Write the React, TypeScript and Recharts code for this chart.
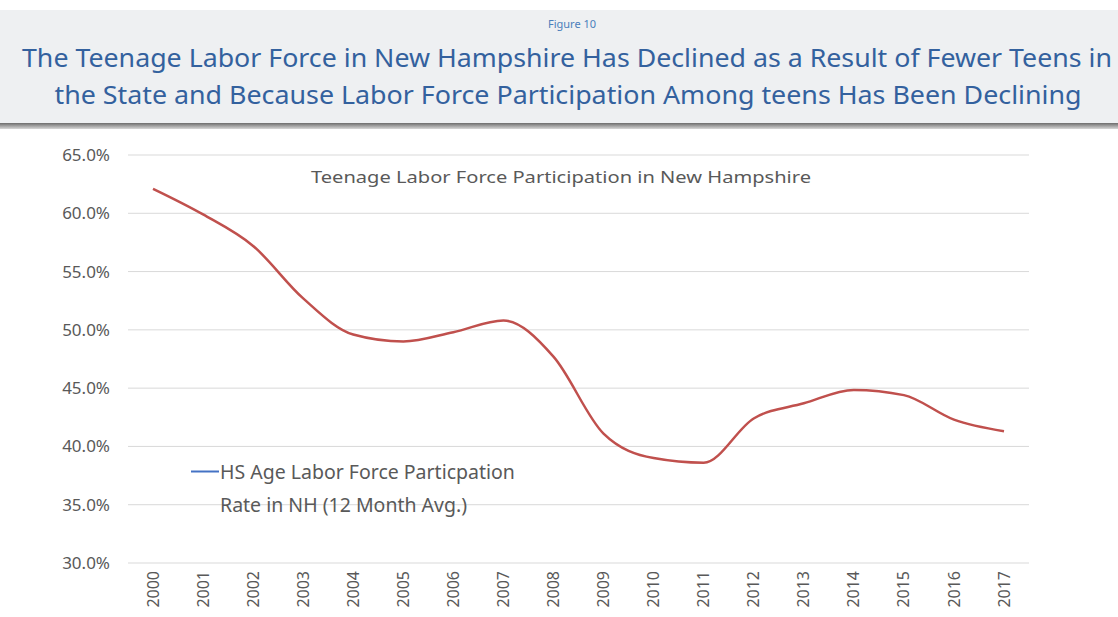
import { LineChart, Line, XAxis, YAxis, CartesianGrid, Legend } from 'recharts';

const YEARS = ['2000', '2001', '2002', '2003', '2004', '2005', '2006', '2007', '2008', '2009', '2010', '2011', '2012', '2013', '2014', '2015', '2016', '2017'];
const RATES = [62.1, 59.9, 57.2, 52.7, 49.6, 49.0, 49.8, 50.8, 47.7, 41.1, 39.0, 38.6, 42.4, 43.7, 44.85, 44.4, 42.3, 41.3];
const Y_TICKS = [30, 35, 40, 45, 50, 55, 60, 65];

const SERIES_NAME = 'HS Age Labor Force Particpation Rate in NH (12 Month Avg.)';
const FIGURE_LABEL = 'Figure 10';
const TITLE_1 = 'The Teenage Labor Force in New Hampshire Has Declined as a Result of Fewer Teens in';
const TITLE_2 = 'the State and Because Labor Force Participation Among teens Has Been Declining';
const CHART_TITLE = 'Teenage Labor Force Participation in New Hampshire';

const data = YEARS.map((year, i) => ({ year, rate: RATES[i] }));

const FONT = '"Noto Sans", "Open Sans", sans-serif';
const TEXT_GRAY = '#595959';
const TITLE_BLUE = '#33619e';

const fmt = (v: number) => `${v.toFixed(1)}%`;

const YearTick = (props: any) => {
  const { x, y, payload } = props;
  return (
    <g transform={`translate(${x},${y})`}>
      <text transform="rotate(-90)" x={0} y={0} dy="0.35em" textAnchor="end" fill={TEXT_GRAY} fontSize={16} fontFamily={FONT}>
        {payload.value}
      </text>
    </g>
  );
};

const LegendBox = () => (
  <div style={{ display: 'flex', alignItems: 'flex-start', fontFamily: FONT, fontSize: 19.5, color: TEXT_GRAY, lineHeight: '33px' }}>
    <svg width={32} height={33} style={{ flex: 'none' }}>
      <line x1={3} x2={31} y1={16.5} y2={16.5} stroke="#4472c4" strokeWidth={2} />
    </svg>
    <div style={{ width: 340, whiteSpace: 'nowrap' }}>
      HS Age Labor Force Particpation
      <br />
      Rate in NH (12 Month Avg.)
    </div>
  </div>
);

export default function App() {
  return (
    <div style={{ position: 'absolute', left: 0, top: 0, width: 1118, height: 617, background: '#fff', overflow: 'hidden' }}>
      <svg width={1118} height={132} style={{ position: 'absolute', left: 0, top: 0 }}>
        <defs>
          <linearGradient id="shade" x1="0" x2="0" y1="0" y2="1">
            <stop offset="0" stopColor="#6d6d6d" />
            <stop offset="1" stopColor="#d8d8d8" />
          </linearGradient>
        </defs>
        <rect x={0} y={10} width={1118} height={113} fill="#eef0f2" />
        <rect x={0} y={123} width={1118} height={6} fill="url(#shade)" />
        <text x={572} y={28} textAnchor="middle" fontFamily={FONT} fontSize={11} fill="#4a7ebb">
          {FIGURE_LABEL}
        </text>
        <text x={567} y={67} textAnchor="middle" fontFamily={FONT} fontSize={26} fill={TITLE_BLUE} textLength={1090} lengthAdjust="spacingAndGlyphs">
          {TITLE_1}
        </text>
        <text x={568} y={104} textAnchor="middle" fontFamily={FONT} fontSize={26} fill={TITLE_BLUE} textLength={1027} lengthAdjust="spacingAndGlyphs">
          {TITLE_2}
        </text>
      </svg>
      <div style={{ position: 'absolute', left: 0, top: 140 }}>
        <LineChart width={1118} height={477} data={data} margin={{ top: 15, right: 29, bottom: 0, left: 68 }}>
          <CartesianGrid vertical={false} stroke="#d9d9d9" yAxisId="left" />
          <XAxis
            dataKey="year"
            interval={0}
            axisLine={false}
            tickLine={false}
            height={54}
            padding={{ left: 25, right: 25 }}
            tick={<YearTick />}
          />
          <YAxis
            yAxisId="left"
            domain={[30, 65]}
            ticks={Y_TICKS}
            tickFormatter={fmt}
            axisLine={false}
            tickLine={false}
            tickMargin={12}
            width={60}
            tick={{ fill: TEXT_GRAY, fontSize: 17, fontFamily: FONT }}
          />
          <YAxis
            yAxisId="right"
            orientation="right"
            domain={[30, 65]}
            ticks={Y_TICKS}
            tickFormatter={fmt}
            axisLine={false}
            tickLine={false}
            tickMargin={12}
            width={60}
            tick={{ fill: TEXT_GRAY, fontSize: 17, fontFamily: FONT, textAnchor: 'start' }}
          />
          <Line
            yAxisId="left"
            type="monotone"
            dataKey="rate"
            name={SERIES_NAME}
            stroke="#c0504d"
            strokeWidth={2.5}
            dot={false}
            activeDot={false}
            isAnimationActive={false}
          />
          <Legend
            layout="horizontal"
            align="center"
            verticalAlign="middle"
            content={<LegendBox />}
            wrapperStyle={{ position: 'absolute', left: 188, top: 315, width: 380 }}
          />
        </LineChart>
      </div>
      <svg width={1118} height={40} style={{ position: 'absolute', left: 0, top: 158, pointerEvents: 'none' }}>
        <text x={561} y={25} textAnchor="middle" fontFamily={FONT} fontSize={17} fill={TEXT_GRAY} textLength={500} lengthAdjust="spacingAndGlyphs">
          {CHART_TITLE}
        </text>
      </svg>
    </div>
  );
}
